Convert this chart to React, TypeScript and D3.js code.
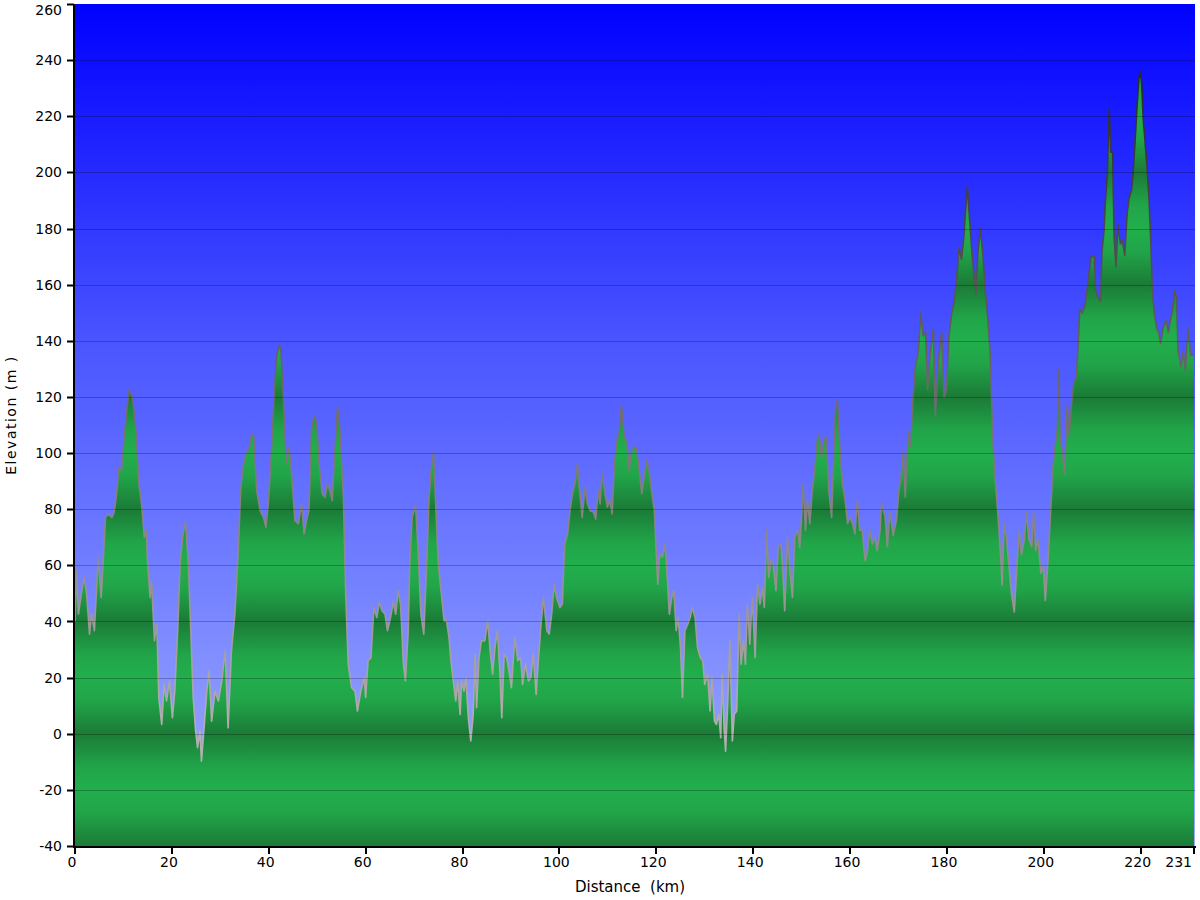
import React, { useEffect, useRef } from 'react';
import * as d3 from 'd3';

// elevation profile (km, m)
const distanceKm = [
  0, 0.34, 0.7, 1.4, 1.9, 2.4, 3.0, 3.4, 4.0, 4.5, 4.8, 5.4, 5.8, 6.3, 6.9, 7.6, 8.1, 8.6, 9.1, 9.6,
  10.1, 10.7, 11.2, 11.8, 12.4, 12.7, 13.2, 13.8, 14.3, 14.7, 15.0, 15.5, 15.8, 16.4, 16.9, 17.3, 17.9, 18.4, 18.9, 19.5,
  20.1, 20.6, 21.2, 21.7, 22.2, 22.8, 23.4, 23.9, 24.4, 24.9, 25.3, 25.8, 26.1, 26.7, 27.2, 27.7, 28.2, 28.9, 29.6, 30.3,
  31.0, 31.6, 32.3, 33.0, 33.7, 34.2, 34.7, 35.4, 35.9, 36.5, 36.9, 37.5, 38.2, 38.9, 39.4, 39.9, 40.6, 41.1, 41.6, 42.1,
  42.5, 43.0, 43.6, 44.2, 44.7, 45.4, 46.1, 46.8, 47.3, 47.8, 48.3, 48.8, 49.4, 49.9, 50.4, 51.0, 51.6, 52.1, 52.6, 53.1,
  53.7, 54.2, 54.7, 55.4, 55.9, 56.4, 57.1, 57.8, 58.3, 59.0, 59.7, 60.0, 60.5, 61.1, 61.7, 62.3, 62.8, 63.4, 64.0, 64.5,
  65.0, 65.7, 66.2, 66.7, 67.2, 67.8, 68.2, 68.8, 69.1, 69.6, 70.3, 70.9, 71.4, 72.0, 72.6, 73.1, 73.5, 74.0, 74.4, 75.0,
  75.7, 76.2, 76.7, 77.2, 77.6, 78.1, 78.6, 79.0, 79.5, 79.8, 80.3, 80.7, 81.2, 81.7, 82.2, 82.6, 82.9, 83.4, 83.9, 84.6,
  85.2, 85.7, 86.2, 86.7, 87.2, 87.7, 88.1, 88.6, 89.1, 89.6, 90.1, 90.8, 91.4, 92.0, 92.4, 93.0, 93.6, 94.1, 94.6, 95.2,
  95.6, 96.2, 96.7, 97.4, 97.9, 98.4, 98.9, 99.4, 100.1, 100.6, 101.1, 101.7, 102.2, 102.7, 103.2, 103.7, 104.1, 104.7, 105.3, 105.8,
  106.3, 107.0, 107.5, 108.0, 108.4, 108.8, 109.4, 109.9, 110.4, 110.9, 111.3, 111.8, 112.3, 112.8, 113.4, 113.9, 114.4, 114.9, 115.5, 115.9,
  116.4, 117.0, 117.5, 118.0, 118.5, 119.0, 119.6, 119.9, 120.3, 120.7, 121.3, 121.8, 122.3, 122.7, 123.2, 123.6, 124.1, 124.5, 125.0, 125.4,
  125.9, 126.5, 127.0, 127.4, 128.0, 128.5, 129.1, 129.6, 130.0, 130.6, 131.1, 131.5, 132.0, 132.4, 132.9, 133.3, 133.6, 134.0, 134.3, 134.7,
  135.2, 135.7, 136.1, 136.6, 137.1, 137.5, 138.0, 138.4, 138.8, 139.3, 139.8, 140.4, 140.9, 141.4, 141.9, 142.3, 142.8, 143.2, 143.7, 144.1,
  144.7, 145.2, 145.7, 146.1, 146.5, 147.1, 147.6, 148.1, 148.6, 149.2, 149.6, 150.0, 150.3, 150.8, 151.2, 151.7, 152.2, 152.7, 153.2, 153.6,
  154.1, 154.6, 155.1, 155.6, 156.2, 156.7, 157.0, 157.4, 157.9, 158.4, 158.9, 159.5, 160.0, 160.5, 161.0, 161.5, 162.0, 162.5, 163.1, 163.5,
  164.1, 164.6, 165.1, 165.6, 166.2, 166.5, 167.2, 167.7, 168.2, 168.9, 169.6, 170.1, 170.6, 171.0, 171.4, 172.0, 172.5, 173.0, 173.5, 174.1,
  174.6, 175.1, 175.6, 176.0, 176.5, 177.2, 177.6, 178.2, 178.9, 179.4, 179.9, 180.4, 181.0, 181.5, 182.0, 182.5, 183.0, 183.5, 183.8, 184.2,
  184.7, 185.2, 185.6, 186.0, 186.4, 186.9, 187.5, 187.9, 188.4, 188.9, 189.2, 189.5, 190.0, 190.6, 191.1, 191.4, 191.8, 192.3, 192.8, 193.3,
  193.9, 194.4, 194.9, 195.4, 196.0, 196.4, 196.9, 197.5, 197.9, 198.3, 198.8, 199.4, 199.9, 200.3, 200.9, 201.4, 201.9, 202.4, 202.8, 203.1,
  203.4, 203.8, 204.3, 204.8, 205.2, 205.7, 206.2, 206.7, 207.1, 207.4, 207.9, 208.5, 208.9, 209.3, 209.7, 210.4, 210.7, 211.2, 211.7, 212.0,
  212.4, 212.7, 213.1, 213.5, 213.8, 214.2, 214.5, 214.9, 215.3, 215.8, 216.2, 216.7, 217.2, 217.6, 218.1, 218.4, 218.8, 219.2, 219.6, 219.9,
  220.2, 220.5, 221.0, 221.3, 221.7, 222.1, 222.4, 222.8, 223.3, 223.7, 224.1, 224.6, 225.2, 225.7, 226.1, 226.6, 227.0, 227.4, 227.7, 228.3,
  228.8, 229.2, 229.8, 230.3, 230.8, 231,
];

const elevationM = [
  40, 58, 42.6, 51, 55.7, 49.8, 35.5, 42.6, 36.7, 53.3, 62.9, 48.6, 60.5, 77.1, 78.3, 77, 79, 85.5, 95, 93.8,
  104.5, 115.2, 122.4, 120, 111.7, 104.5, 89, 80.7, 70, 72.4, 60.5, 48.6, 54.5, 33.1, 39, 12.9, 3.3, 17.6, 11.7, 18.8,
  5.7, 15.2, 36.7, 60.5, 70, 75.4, 60.5, 36.7, 12.9, 1, -5, 1, -9.8, 3.3, 15.2, 22.4, 4.5, 15.2, 11.7, 18.8,
  29.5, 2.1, 29.5, 42.6, 65.2, 86.7, 95, 100.4, 101, 106.9, 105.7, 86.7, 79.5, 77.1, 73.6, 81.9, 102.1, 120, 134.3, 138.5,
  136.7, 120, 96.2, 102.1, 92.6, 76, 74.8, 81.9, 71.2, 76, 79.5, 108.1, 113.5, 110.5, 96.2, 85.5, 84.3, 89, 86.7, 83.1,
  102.1, 116.4, 108.1, 84.3, 48.6, 24.8, 16.4, 15.2, 8.1, 15.2, 20, 12.9, 26, 27.1, 45, 41.4, 46.8, 43.8, 42.6, 36.7,
  40.2, 46.8, 42.6, 51, 46.2, 24.8, 18.8, 36.7, 60.5, 77.1, 81.3, 62.9, 42.6, 35.5, 60.5, 84.3, 93.8, 100.4, 84.3, 60.5,
  48.6, 40.2, 40.2, 34.3, 26, 18.8, 11.7, 18.8, 6.9, 18.8, 15.2, 20, 5.7, -2.6, 6.9, 28.3, 9.3, 27.1, 33.1, 33.1,
  40.2, 29.5, 21.2, 30.7, 36.7, 22.4, 5.7, 28.3, 27.1, 22.4, 16.4, 34.3, 26, 27.1, 17.6, 24.8, 18.8, 20, 28.3, 14,
  24.8, 39, 48.6, 36.7, 35.5, 42.6, 53.3, 48.6, 45, 46.2, 67.6, 71.2, 79.5, 85.5, 89, 96.2, 87.9, 77.1, 87.9, 81.9,
  79.5, 79, 76.5, 86.7, 81.9, 92.6, 85.5, 80.7, 83.1, 78.3, 93.8, 104.5, 106.9, 117, 105.7, 104.5, 93.8, 101, 102.1, 101.5,
  95, 85.5, 91.4, 97.4, 93.8, 86.7, 79.5, 67.6, 53.3, 64, 62.9, 67.6, 54.5, 42.6, 48.6, 51, 36.7, 41.4, 30.7, 12.9,
  36.7, 39, 41.4, 45, 41.4, 30.7, 27.1, 26, 17.6, 21.2, 8.1, 20, 4.5, 3.3, 6.9, -1.4, 21.2, 2.1, -6.2, 9.3,
  33.1, -2.6, 6.9, 8.1, 42.6, 24.8, 33.1, 24.8, 46.2, 31.9, 48.6, 27.1, 53.3, 46.2, 52, 45, 72.4, 55.7, 61.7, 60.5,
  51, 66.4, 67.6, 58.1, 43.8, 70, 58.1, 48.6, 70, 72.4, 66.4, 77.1, 89, 72.4, 83.1, 74.8, 86.7, 93.8, 104.5, 106.9,
  98.5, 104.5, 105.7, 86.7, 77.1, 102.1, 115.2, 118.8, 102.1, 89, 84.3, 74.8, 77.1, 74.8, 71.2, 83.1, 72.4, 72.4, 61.7, 64,
  72.4, 67.6, 70, 65.2, 72.4, 81.9, 77.5, 66.6, 78.9, 70.7, 76.2, 87.1, 92.6, 100.8, 84.4, 107.6, 102.1, 119.9, 130.8, 136.2,
  149.9, 141.7, 143.1, 122.6, 134.9, 144.4, 113, 132.1, 143.1, 119.9, 122.6, 141.7, 149.9, 154, 162.2, 173.1, 169, 177.2, 185.4, 195,
  182.7, 170.4, 163.5, 156.7, 171.7, 179.9, 169, 158.1, 148.5, 136.2, 119.9, 103.5, 89.8, 76.2, 62.5, 53, 74.8, 69.3, 59.8, 50.2,
  43.4, 58.4, 72.1, 63.9, 69.3, 78.9, 69.3, 66.6, 78.9, 65.3, 69.3, 57.1, 59.8, 47.5, 62.5, 78.9, 95.3, 103.5, 108.9, 129.4,
  104.8, 100.8, 92.6, 117.1, 106.2, 117.1, 125.3, 126.7, 139, 151.3, 149.9, 152.6, 158.1, 163.5, 169.7, 170.4, 158.1, 155.4, 154, 171.7,
  178.6, 189.5, 199, 222.9, 207.2, 207.2, 177.2, 166.3, 181.3, 174.5, 175.8, 170.4, 185.4, 190.9, 193.6, 199, 210, 222.3, 233.2, 235.9,
  231.8, 219.5, 208.6, 201.8, 190.9, 174.5, 158.1, 149.9, 144.4, 143.1, 139, 144.4, 147.2, 143.1, 147.2, 151.3, 158.1, 155.4, 136.2, 130.8,
  136.2, 129.4, 144.4, 134.9, 134.9, 135,
];

const yTicks = [-40, -20, 0, 20, 40, 60, 80, 100, 120, 140, 160, 180, 200, 220, 240, 260];
const xTicks = [0, 20, 40, 60, 80, 100, 120, 140, 160, 180, 200, 220, 231];

export default function App() {
  const svgRef = useRef<SVGSVGElement>(null);

  useEffect(() => {
    if (!svgRef.current) return;
    const svg = d3.select(svgRef.current);
    svg.selectAll('*').remove();

    const font = "Verdana, 'DejaVu Sans', sans-serif";
    const x = d3.scaleLinear().domain([0, 231]).range([75, 1194]);
    const y = d3.scaleLinear().domain([-40, 260]).range([846, 4]);
    const [left, right] = x.range();
    const [bottom, top] = y.range();

    const data: [number, number][] = distanceKm.map((d, i) => [d, elevationM[i]]);

    const defs = svg.append('defs');

    // sky: deep blue at the top fading to pale blue
    const sky = defs.append('linearGradient')
      .attr('id', 'sky')
      .attr('gradientUnits', 'userSpaceOnUse')
      .attr('x1', 0).attr('x2', 0)
      .attr('y1', top).attr('y2', bottom);
    sky.append('stop').attr('offset', 0).attr('stop-color', '#0000ff');
    sky.append('stop').attr('offset', 0.4).attr('stop-color', '#4a55ff');
    sky.append('stop').attr('offset', 0.85).attr('stop-color', '#8c9aff');
    sky.append('stop').attr('offset', 1).attr('stop-color', '#9aaaff');

    // green bands: bright at 20, dark at 0, mirrored every 20 m
    const green = defs.append('linearGradient')
      .attr('id', 'greenBands')
      .attr('gradientUnits', 'userSpaceOnUse')
      .attr('spreadMethod', 'reflect')
      .attr('x1', 0).attr('x2', 0)
      .attr('y1', y(20)).attr('y2', y(0));
    green.append('stop').attr('offset', 0).attr('stop-color', '#22ae4c');
    green.append('stop').attr('offset', 0.4).attr('stop-color', '#21a549');
    green.append('stop').attr('offset', 1).attr('stop-color', '#1b7b37');

    // outline goes from light grey low down to near black at the summits
    const edge = defs.append('linearGradient')
      .attr('id', 'edge')
      .attr('gradientUnits', 'userSpaceOnUse')
      .attr('x1', 0).attr('x2', 0)
      .attr('y1', y(240)).attr('y2', y(0));
    edge.append('stop').attr('offset', 0).attr('stop-color', '#262626');
    edge.append('stop').attr('offset', 1).attr('stop-color', '#b4b0b0');

    svg.append('rect')
      .attr('x', left).attr('y', top)
      .attr('width', right - left + 1).attr('height', bottom - top)
      .attr('fill', 'url(#sky)');

    const area = d3.area<[number, number]>()
      .x(d => x(d[0]))
      .y0(bottom)
      .y1(d => y(d[1]));

    const line = d3.line<[number, number]>()
      .x(d => x(d[0]))
      .y(d => y(d[1]));

    svg.append('path')
      .datum(data)
      .attr('fill', 'url(#greenBands)')
      .attr('d', area);

    svg.append('path')
      .datum(data)
      .attr('fill', 'none')
      .attr('stroke', 'url(#edge)')
      .attr('stroke-width', 1.6)
      .attr('stroke-linejoin', 'round')
      .attr('d', line);

    // horizontal grid over everything
    svg.append('g')
      .selectAll('line')
      .data(yTicks.filter(t => t !== -40 && t !== 260))
      .join('line')
      .attr('x1', left).attr('x2', right + 1)
      .attr('y1', d => Math.round(y(d)) + 0.5)
      .attr('y2', d => Math.round(y(d)) + 0.5)
      .attr('stroke', '#000')
      .attr('stroke-opacity', 0.25)
      .attr('stroke-width', 1);

    // axes
    svg.append('line')
      .attr('x1', left - 1).attr('x2', left - 1)
      .attr('y1', top).attr('y2', bottom + 2)
      .attr('stroke', '#000').attr('stroke-width', 2);
    svg.append('line')
      .attr('x1', left - 2).attr('x2', right + 2)
      .attr('y1', bottom + 1).attr('y2', bottom + 1)
      .attr('stroke', '#000').attr('stroke-width', 2);

    const yAxis = svg.append('g');
    yAxis.selectAll('line')
      .data(yTicks)
      .join('line')
      .attr('x1', left - 8).attr('x2', left - 1)
      .attr('y1', d => Math.round(y(d)) + 0.5)
      .attr('y2', d => Math.round(y(d)) + 0.5)
      .attr('stroke', '#000').attr('stroke-width', 2);
    yAxis.selectAll('text')
      .data(yTicks)
      .join('text')
      .attr('x', left - 13)
      .attr('y', d => Math.max(y(d), 10))
      .attr('dy', '0.36em')
      .attr('text-anchor', 'end')
      .attr('font-family', font)
      .attr('font-size', 14)
      .attr('fill', '#000')
      .text(d => d);

    const xAxis = svg.append('g');
    xAxis.selectAll('line')
      .data(xTicks)
      .join('line')
      .attr('x1', d => Math.round(x(d)))
      .attr('x2', d => Math.round(x(d)))
      .attr('y1', bottom + 1).attr('y2', bottom + 8)
      .attr('stroke', '#000').attr('stroke-width', 2);
    xAxis.selectAll('text')
      .data(xTicks)
      .join('text')
      .attr('x', d => (d === 231 ? x(d) - 2 : x(d) - 3))
      .attr('y', 867)
      .attr('text-anchor', d => (d === 231 ? 'end' : 'middle'))
      .attr('font-family', font)
      .attr('font-size', 14)
      .attr('fill', '#000')
      .text(d => d);

    svg.append('text')
      .attr('x', 630)
      .attr('y', 892)
      .attr('text-anchor', 'middle')
      .attr('font-family', font)
      .attr('font-size', 15)
      .style('white-space', 'pre')
      .attr('fill', '#000')
      .text('Distance  (km)');

    svg.append('text')
      .attr('transform', 'translate(16,415) rotate(-90)')
      .attr('text-anchor', 'middle')
      .attr('font-family', font)
      .attr('font-size', 14)
      .attr('letter-spacing', 1.5)
      .style('white-space', 'pre')
      .attr('fill', '#000')
      .text('Elevation (m )');
  }, []);

  return (
    <div style={{ position: 'absolute', left: 0, top: 0, width: 1200, height: 900, background: '#fff' }}>
      <svg ref={svgRef} width={1200} height={900} />
    </div>
  );
}
